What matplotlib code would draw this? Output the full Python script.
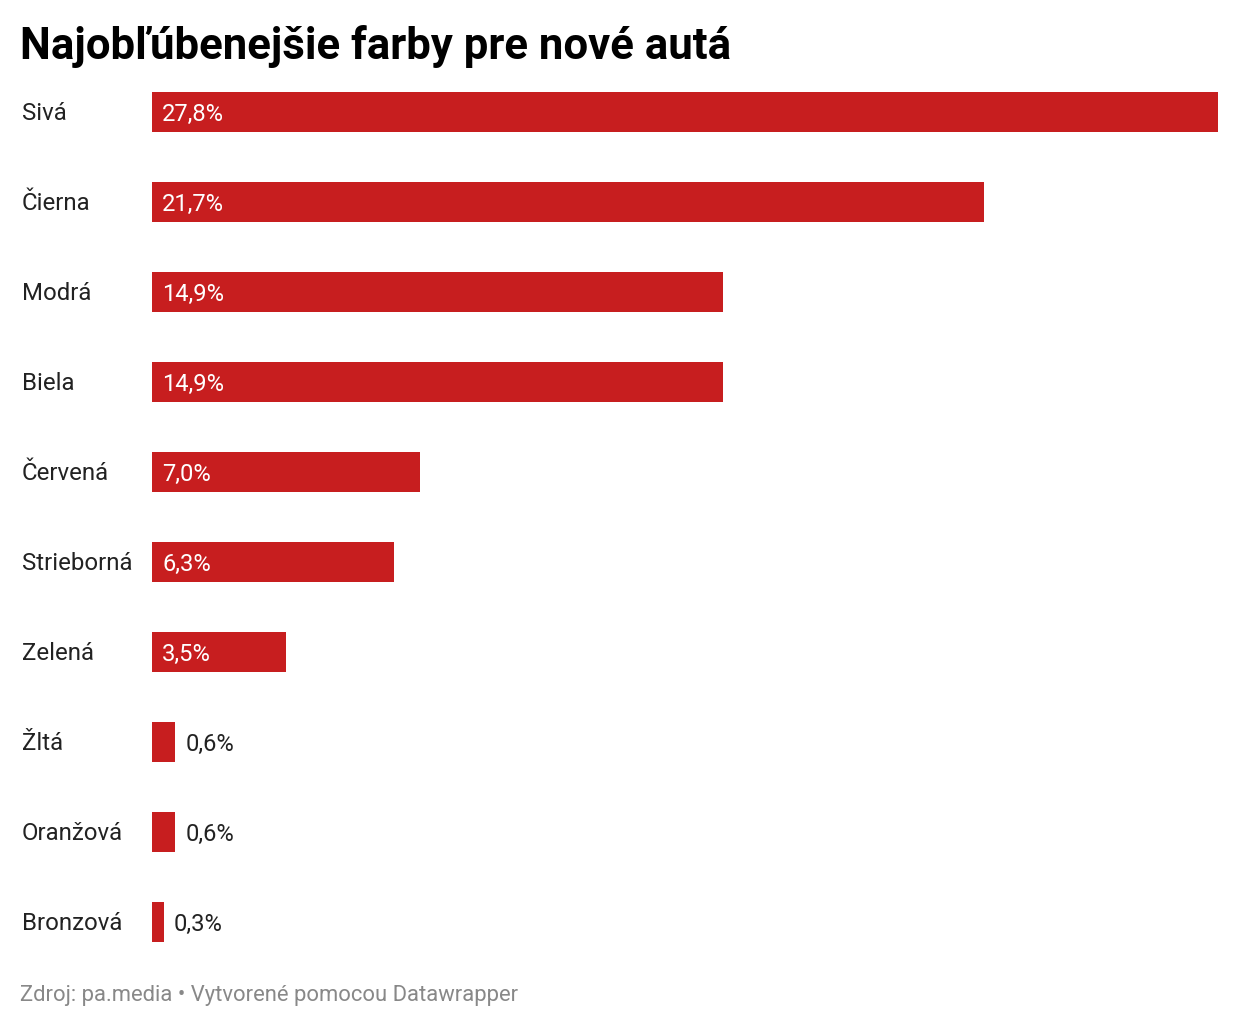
import matplotlib
matplotlib.use("Agg")
import matplotlib.pyplot as plt

plt.rcParams['font.family'] = ['Roboto', 'DejaVu Sans']

# data
colors = ['Sivá', 'Čierna', 'Modrá', 'Biela', 'Červená', 'Strieborná',
          'Zelená', 'Žltá', 'Oranžová', 'Bronzová']
shares = [27.8, 21.7, 14.9, 14.9, 7.0, 6.3, 3.5, 0.6, 0.6, 0.3]

title = 'Najobľúbenejšie farby pre nové autá'
source = 'Zdroj: pa.media • Vytvorené pomocou Datawrapper'

bar_color = '#c71e1f'
W, H = 1240, 1028

fig = plt.figure(figsize=(W / 100, H / 100), dpi=100)
fig.patch.set_facecolor('white')

# axes area in pixels
left, right = 152, 1218
top, bottom = 67, 967
ax = fig.add_axes([left / W, 1 - bottom / H, (right - left) / W, (bottom - top) / H])
ax.set_xlim(0, max(shares))
ax.set_ylim(len(colors) - 0.5, -0.5)
ax.axis('off')

ypos = list(range(len(colors)))
ax.barh(ypos, shares, height=40 / 90, color=bar_color, linewidth=0)

# baseline sits ~8.5px below bar centre
base = -6.1
lab_x = (22 - left) / 100 * 72
for y, name, v in zip(ypos, colors, shares):
    ax.annotate(name, (0, y), xytext=(lab_x, base), textcoords='offset points',
                ha='left', va='baseline', fontsize=17.3, color='#222222',
                annotation_clip=False)
    txt = f'{v:.1f}%'.replace('.', ',')
    if v >= 3:
        ax.annotate(txt, (0, y), xytext=(7.2, base), textcoords='offset points',
                    ha='left', va='baseline', fontsize=17.1, color='white')
    else:
        ax.annotate(txt, (v, y), xytext=(7.6, base), textcoords='offset points',
                    ha='left', va='baseline', fontsize=17.1, color='#222222')

fig.text(20 / W, 1 - 46 / H, title, ha='left', va='center',
         fontsize=31.5, fontweight='bold', color='#000000')
fig.text(20 / W, 1 - 995 / H, source, ha='left', va='center',
         fontsize=15.8, color='#888888')

fig.savefig('out.png', dpi=100, facecolor='white')
